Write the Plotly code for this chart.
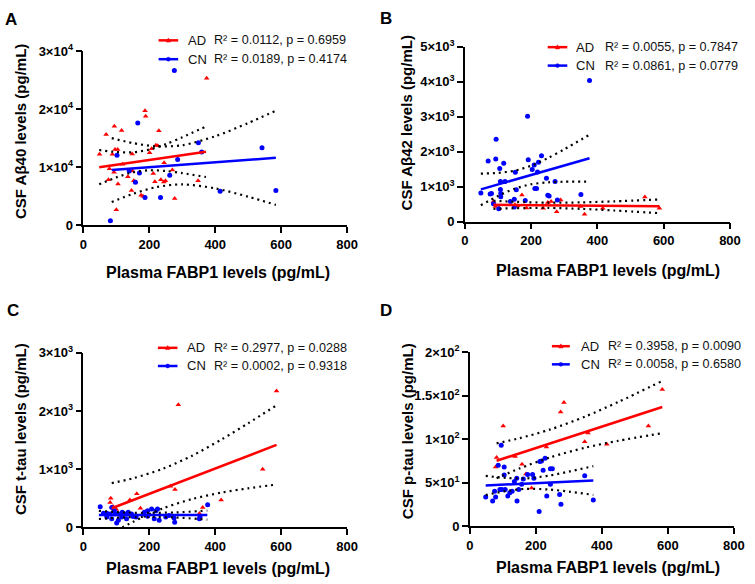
import plotly.graph_objects as go

W, H = 755, 584
FONT = "Liberation Sans, Arial, Helvetica, sans-serif"
RED = "#ff0000"
BLUE = "#0000ff"

# ---------------- data ----------------
x_ticks = [0, 200, 400, 600, 800]

# Panel A : CSF Abeta40
a_ad_x = [49, 69, 94, 116, 88, 96, 104, 79, 76, 93, 105, 100, 119, 135, 148, 149, 146, 153, 158, 175,
          181, 187, 189, 201, 207, 212, 217, 220, 226, 229, 235, 244, 245, 249, 270, 277, 348, 374]
a_ad_y = [12222, 15611, 17056, 16333, 12222, 13056, 13056, 9722, 7833, 9111, 7111, 2667, 10500, 8333,
          12278, 9333, 6000, 7667, 7444, 5167, 5000, 19722, 18778, 12500, 13167, 8889, 7500, 13778,
          13667, 16278, 7833, 7444, 10778, 7667, 9500, 4611, 7667, 25333]
a_cn_x = [82, 102, 139, 158, 165, 170, 187, 234, 262, 286, 276, 349, 359, 415, 542, 584]
a_cn_y = [778, 12056, 9333, 7389, 17611, 9000, 4778, 4778, 8611, 11333, 26667, 14222, 12611, 5833,
          13333, 6000]
a_ad_fit_x = [48, 372]
a_ad_fit_y = [10000, 12650]
a_cn_fit_x = [86, 584]
a_cn_fit_y = [9500, 11611]
a_ad_band_x = [48, 100, 150, 200, 250, 300, 372]
a_ad_upper = [12950, 12607, 12563, 13028, 13966, 15142, 17000]
a_ad_lower = [7050, 8243, 9105, 9458, 9338, 8980, 8300]
a_cn_band_x = [86, 150, 220, 300, 400, 500, 584]
a_cn_upper = [15000, 14152, 13587, 13776, 15323, 17600, 19722]
a_cn_lower = [4000, 5390, 6549, 7038, 6339, 4910, 3500]
a_yticks = [0, 10000, 20000, 30000]
a_yticktext = ["0", "1×10<sup>4</sup>", "2×10<sup>4</sup>", "3×10<sup>4</sup>"]

# Panel B : CSF Abeta42
b_cn_x = [48, 70, 76, 80, 86, 94, 93, 105, 107, 107, 108, 108, 117, 121, 102, 137, 149, 152, 155, 149,
          182, 189, 191, 203, 209, 211, 216, 219, 222, 231, 246, 250, 254, 272, 279, 350, 376]
b_cn_y = [815, 1731, 787, 806, 509, 2352, 1787, 1518, 1148, 917, 806, 713, 1667, 1148, 370, 574, 639,
          1407, 907, 417, 602, 3009, 1768, 1491, 1620, 944, 944, 1417, 1694, 1880, 1241, 750, 731,
          1148, 620, 778, 4028]
b_ad_x = [86, 92, 103, 151, 159, 172, 186, 236, 250, 260, 277, 289, 349, 361, 416, 543, 587]
b_ad_y = [574, 435, 389, 481, 454, 759, 389, 380, 546, 574, 283, 620, 435, 213, 380, 704, 380]
b_ad_fit_x = [86, 587]
b_ad_fit_y = [480, 437]
b_cn_fit_x = [48, 376]
b_cn_fit_y = [920, 1810]
b_ad_band_x = [86, 150, 250, 350, 450, 587]
b_ad_upper = [595, 566, 541, 549, 580, 632]
b_ad_lower = [365, 383, 391, 365, 318, 242]
b_cn_band_x = [48, 100, 150, 200, 250, 300, 376]
b_cn_upper = [1370, 1392, 1455, 1597, 1814, 2068, 2480]
b_cn_lower = [470, 731, 939, 1067, 1122, 1140, 1140]
b_yticks = [0, 1000, 2000, 3000, 4000, 5000]
b_yticktext = ["0", "1×10<sup>3</sup>", "2×10<sup>3</sup>", "3×10<sup>3</sup>", "4×10<sup>3</sup>",
               "5×10<sup>3</sup>"]

# Panel C : CSF t-tau
c_ad_x = [83, 81, 90, 100, 141, 162, 173, 190, 264, 278, 288, 352, 362, 418, 544, 586]
c_ad_y = [500, 428, 360, 310, 472, 578, 328, 280, 706, 650, 2106, 240, 344, 472, 1000, 2344]
c_cn_x = [51, 61, 71, 81, 86, 94, 96, 106, 118, 126, 136, 146, 185, 195, 207, 220, 225, 377, 71, 86,
          101, 106, 116, 131, 151, 160, 195, 215, 230, 250, 260, 275, 277, 354, 352]
c_cn_y = [356, 244, 244, 233, 344, 289, 233, 233, 261, 233, 261, 233, 261, 289, 317, 289, 317, 389,
          178, 150, 78, 122, 178, 150, 189, 178, 194, 150, 122, 178, 206, 161, 89, 178, 150]
c_ad_fit_x = [86, 586]
c_ad_fit_y = [330, 1417]
c_cn_fit_x = [47, 376]
c_cn_fit_y = [212, 216]
c_ad_band_x = [86, 150, 241, 330, 420, 500, 586]
c_ad_upper = [761, 843, 1007, 1232, 1513, 1788, 2097]
c_ad_lower = [-101, 95, 327, 488, 599, 672, 737]
c_cn_band_x = [47, 130, 200, 280, 376]
c_cn_upper = [285, 255, 250, 258, 290]
c_cn_lower = [145, 175, 180, 172, 135]
c_yticks = [0, 1000, 2000, 3000]
c_yticktext = ["0", "1×10<sup>3</sup>", "2×10<sup>3</sup>", "3×10<sup>3</sup>"]

# Panel D : CSF p-tau
d_ad_x = [81, 78, 101, 137, 158, 170, 187, 232, 275, 285, 348, 358, 415, 541, 583]
d_ad_y = [79, 68, 115, 80, 71, 60, 44, 91, 131, 142, 97, 107, 94, 115, 157]
d_cn_x = [48, 69, 75, 78, 86, 91, 97, 104, 104, 107, 115, 121, 128, 135, 142, 143, 148, 162, 175, 190,
          194, 210, 212, 217, 228, 222, 244, 250, 233, 272, 276, 244, 348, 374, 95, 157]
d_cn_y = [33.5, 29, 40, 33.5, 70, 42, 42, 68, 58.7, 42, 34.6, 38.3, 40, 51.3, 55, 29, 42, 54.3, 59.5,
          59.5, 55, 17, 74.3, 75, 78, 64.3, 66, 66, 34.6, 36.4, 25.3, 48.3, 58, 30, 93, 48.3]
d_ad_fit_x = [81, 583]
d_ad_fit_y = [75.1, 136.8]
d_cn_fit_x = [48, 374]
d_cn_fit_y = [46.8, 52.4]
d_ad_band_x = [81, 150, 242, 350, 450, 583]
d_ad_upper = [95.1, 101.0, 110.9, 126.0, 142.7, 166.8]
d_ad_lower = [55.1, 66.2, 78.9, 90.2, 98.1, 106.8]
d_cn_band_x = [48, 110, 170, 240, 300, 374]
d_cn_upper = [57.8, 55.4, 54.9, 58.1, 62.7, 68.9]
d_cn_lower = [35.8, 40.4, 42.9, 42.1, 39.7, 35.9]
d_yticks = [0, 50, 100, 150, 200]
d_yticktext = ["0", "5×10<sup>1</sup>", "1×10<sup>2</sup>", "1.5×10<sup>2</sup>", "2×10<sup>2</sup>"]

# texts
panel_letters = ["A", "B", "C", "D"]
y_titles = ["CSF Aβ40 levels (pg/mL)", "CSF Aβ42 levels (pg/mL)",
            "CSF t-tau levels (pg/mL)", "CSF p-tau levels (pg/mL)"]
x_title = "Plasma FABP1 levels (pg/mL)"
group_names = ["AD", "CN"]
stats_text = [["R² = 0.0112, p = 0.6959", "R² = 0.0189, p = 0.4174"],
              ["R² = 0.0055, p = 0.7847", "R² = 0.0861, p = 0.0779"],
              ["R² = 0.2977, p = 0.0288", "R² = 0.0002, p = 0.9318"],
              ["R² = 0.3958, p = 0.0090", "R² = 0.0058, p = 0.6580"]]

panels = [
    dict(ad=(a_ad_x, a_ad_y), cn=(a_cn_x, a_cn_y), adfit=(a_ad_fit_x, a_ad_fit_y),
         cnfit=(a_cn_fit_x, a_cn_fit_y), adband=(a_ad_band_x, a_ad_upper, a_ad_lower),
         cnband=(a_cn_band_x, a_cn_upper, a_cn_lower), yt=(a_yticks, a_yticktext)),
    dict(ad=(b_ad_x, b_ad_y), cn=(b_cn_x, b_cn_y), adfit=(b_ad_fit_x, b_ad_fit_y),
         cnfit=(b_cn_fit_x, b_cn_fit_y), adband=(b_ad_band_x, b_ad_upper, b_ad_lower),
         cnband=(b_cn_band_x, b_cn_upper, b_cn_lower), yt=(b_yticks, b_yticktext)),
    dict(ad=(c_ad_x, c_ad_y), cn=(c_cn_x, c_cn_y), adfit=(c_ad_fit_x, c_ad_fit_y),
         cnfit=(c_cn_fit_x, c_cn_fit_y), adband=(c_ad_band_x, c_ad_upper, c_ad_lower),
         cnband=(c_cn_band_x, c_cn_upper, c_cn_lower), yt=(c_yticks, c_yticktext)),
    dict(ad=(d_ad_x, d_ad_y), cn=(d_cn_x, d_cn_y), adfit=(d_ad_fit_x, d_ad_fit_y),
         cnfit=(d_cn_fit_x, d_cn_fit_y), adband=(d_ad_band_x, d_ad_upper, d_ad_lower),
         cnband=(d_cn_band_x, d_cn_upper, d_cn_lower), yt=(d_yticks, d_yticktext)),
]

# ---------------- layout geometry (pixels) ----------------
boxes = [(81, 350, 43.3, 222.7), (470.3, 740.7, 38.7, 219),
         (81, 350, 354, 534), (475.3, 744.7, 353.3, 532.7)]
letter_pos = [(7.5, 10.5), (389.5, 10), (9.5, 311), (389.5, 311)]
ytitle_pos = [(17, 126), (411, 117), (17, 433), (412, 435)]
xtitle_pos = [(218, 271), (616, 269), (218, 576), (616, 575)]
legend_rows = [(32.3, 51.7), (39.3, 58.3), (349, 367.7), (347.3, 366)]
legend_x = [(157.7, 177.7, 185.7, 212.3), (554.7, 574.7, 582, 610.7),
            (157, 177, 184.3, 212.3), (559, 577.3, 586.3, 614)]


def px(x):
    return x / W


def py(y):
    return 1 - y / H


fig = go.Figure()
layout = dict(width=W, height=H, margin=dict(l=0, r=0, t=0, b=0), autosize=False,
              plot_bgcolor="white", paper_bgcolor="white", showlegend=False,
              font=dict(family=FONT, color="black", size=13))
annotations = []
shapes = []

for i, p in enumerate(panels):
    n = "" if i == 0 else str(i + 1)
    xa, ya = "x" + n, "y" + n
    l, r, t, b = boxes[i]
    yvals, ytext = p["yt"]
    layout["xaxis" + n] = dict(
        domain=[px(l), px(r)], range=[0, 800], anchor=ya, tickvals=x_ticks,
        ticktext=["<b>%d</b>" % v for v in x_ticks], ticks="outside", ticklen=6, tickwidth=1.6,
        tickcolor="black", showline=True, linecolor="black", linewidth=1.6, showgrid=False,
        zeroline=False, tickfont=dict(family=FONT, size=13, color="black"), fixedrange=True)
    layout["yaxis" + n] = dict(
        domain=[py(b), py(t)], range=[0, yvals[-1]], anchor=xa, tickvals=yvals,
        ticktext=["<b>%s</b>" % s for s in ytext],
        ticks="outside", ticklen=6, tickwidth=1.6, tickcolor="black", showline=True,
        linecolor="black", linewidth=1.6, showgrid=False, zeroline=False,
        tickfont=dict(family=FONT, size=13, color="black"), fixedrange=True)

    fig.add_trace(go.Scatter(x=p["ad"][0], y=p["ad"][1], mode="markers", xaxis=xa, yaxis=ya,
                             marker=dict(symbol="triangle-up", size=5, color=RED)))
    fig.add_trace(go.Scatter(x=p["cn"][0], y=p["cn"][1], mode="markers", xaxis=xa, yaxis=ya,
                             marker=dict(symbol="circle", size=5, color=BLUE)))
    for key in ("adband", "cnband"):
        bx, up, lo = p[key]
        for yy in (up, lo):
            fig.add_trace(go.Scatter(x=bx, y=yy, mode="lines", xaxis=xa, yaxis=ya,
                                     line=dict(color="black", width=2.2, dash="2px,4px",
                                               shape="spline", smoothing=0.8)))
    fig.add_trace(go.Scatter(x=p["adfit"][0], y=p["adfit"][1], mode="lines", xaxis=xa, yaxis=ya,
                             line=dict(color=RED, width=2.5)))
    fig.add_trace(go.Scatter(x=p["cnfit"][0], y=p["cnfit"][1], mode="lines", xaxis=xa, yaxis=ya,
                             line=dict(color=BLUE, width=2.5)))

    lx, ly = letter_pos[i]
    annotations.append(dict(text="<b>%s</b>" % panel_letters[i], x=px(lx), y=py(ly), xref="paper",
                            yref="paper", xanchor="center", yanchor="middle", showarrow=False,
                            font=dict(family=FONT, size=17, color="black")))
    tx, ty = ytitle_pos[i]
    annotations.append(dict(text="<b>%s</b>" % y_titles[i], x=px(tx), y=py(ty), xref="paper",
                            yref="paper", xanchor="center", yanchor="middle", showarrow=False,
                            textangle=-90, font=dict(family=FONT, size=15, color="black")))
    tx, ty = xtitle_pos[i]
    annotations.append(dict(text="<b>%s</b>" % x_title, x=px(tx), y=py(ty), xref="paper",
                            yref="paper", xanchor="center", yanchor="middle", showarrow=False,
                            font=dict(family=FONT, size=16, color="black")))
    lx0, lx1, nx, sx = legend_x[i]
    for j, (col, name) in enumerate(zip((RED, BLUE), group_names)):
        yrow = legend_rows[i][j]
        shapes.append(dict(type="line", xref="paper", yref="paper", x0=px(lx0), x1=px(lx1),
                           y0=py(yrow), y1=py(yrow), line=dict(color=col, width=2.5)))
        cx = (lx0 + lx1) / 2
        if j == 0:
            path = "M {} {} L {} {} L {} {} Z".format(px(cx - 2.2), py(yrow + 1.8), px(cx + 2.2),
                                                      py(yrow + 1.8), px(cx), py(yrow - 2.4))
            shapes.append(dict(type="path", xref="paper", yref="paper", path=path,
                               fillcolor=col, line=dict(color=col, width=0.5)))
        else:
            shapes.append(dict(type="circle", xref="paper", yref="paper", x0=px(cx - 2),
                               x1=px(cx + 2), y0=py(yrow + 2), y1=py(yrow - 2), fillcolor=col,
                               line=dict(color=col, width=0.5)))
        annotations.append(dict(text=name, x=px(nx), y=py(yrow), xref="paper", yref="paper",
                                xanchor="left", yanchor="middle", showarrow=False,
                                font=dict(family=FONT, size=13, color="#111111")))
        annotations.append(dict(text=stats_text[i][j], x=px(sx), y=py(yrow), xref="paper",
                                yref="paper", xanchor="left", yanchor="middle", showarrow=False,
                                font=dict(family=FONT, size=12.6, color="#111111")))

layout["annotations"] = annotations
layout["shapes"] = shapes
fig.update_layout(**layout)
fig.write_html("out.html", config={"displayModeBar": False},
               post_script="document.body.style.margin='0';document.body.style.overflow='hidden';")
